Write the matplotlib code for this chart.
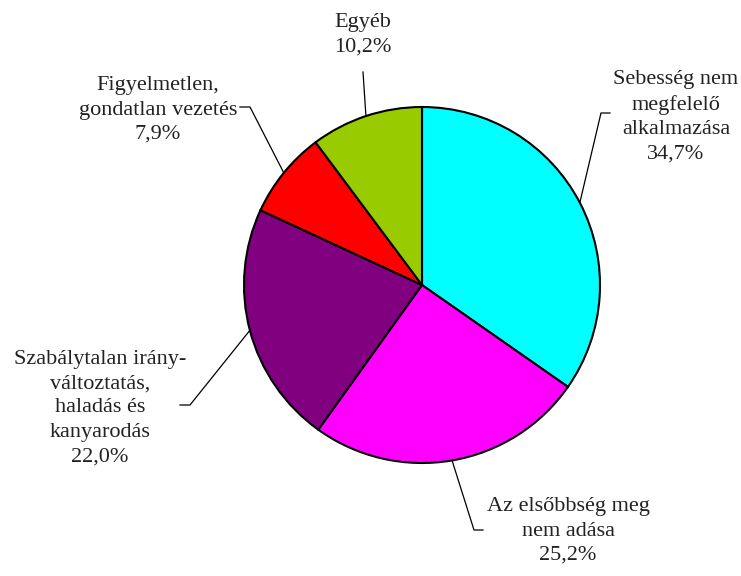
import numpy as np
import matplotlib
matplotlib.use('Agg')
import matplotlib.pyplot as plt

# data: causes of accidents (share in %)
labels = ['Sebesség nem\nmegfelelő\nalkalmazása',
          'Az elsőbbség meg\nnem adása',
          'Szabálytalan irány-\nváltoztatás,\nhaladás és\nkanyarodás',
          'Figyelmetlen,\ngondatlan vezetés',
          'Egyéb']
values = [34.7, 25.2, 22.0, 7.9, 10.2]
colors = ['#00FFFF', '#FF00FF', '#800080', '#FF0000', '#99CC00']

W, H = 741, 576
cx, cy, rad = 422, 285, 178

def Y(py):
    return H - py

fig = plt.figure(figsize=(W / 100, H / 100), dpi=100)
ax = fig.add_axes([0, 0, 1, 1])
ax.pie(values, colors=colors, startangle=90, counterclock=False,
       center=(cx, Y(cy)), radius=rad,
       wedgeprops=dict(edgecolor='black', linewidth=1.5))
ax.set_xlim(0, W)
ax.set_ylim(0, H)
ax.set_aspect('equal')
ax.axis('off')

# label placement (pixel coords): text centre, elbow, line end
text_pos = [(676, 117), (568, 531), (100, 408), (158, 110), (363, 35)]
elbows = [(601, 113), (474, 530), (190, 405), (250, 107), None]
ends = [(610, 113), (483, 530), (180, 405), (240, 107), (363, 72)]

total = sum(values)
start = 90.0
for i, v in enumerate(values):
    span = 360.0 * v / total
    mid = np.radians(start - span / 2)
    start -= span
    ex = cx + rad * np.cos(mid)
    ey = cy - rad * np.sin(mid)
    if elbows[i] is None:
        ax.plot([ex, ends[i][0]], [Y(ey), Y(ends[i][1])], color='black', lw=0.9)
    else:
        xs = [ex, elbows[i][0], ends[i][0]]
        ys = [Y(ey), Y(elbows[i][1]), Y(ends[i][1])]
        ax.plot(xs, ys, color='black', lw=0.9)
    txt = labels[i] + '\n' + ('%.1f%%' % v).replace('.', ',')
    ax.text(text_pos[i][0], Y(text_pos[i][1]), txt, ha='center', va='center',
            fontsize=16, family='Liberation Serif', linespacing=1.38,
            color='#222222')

fig.savefig('out.png', dpi=100)
